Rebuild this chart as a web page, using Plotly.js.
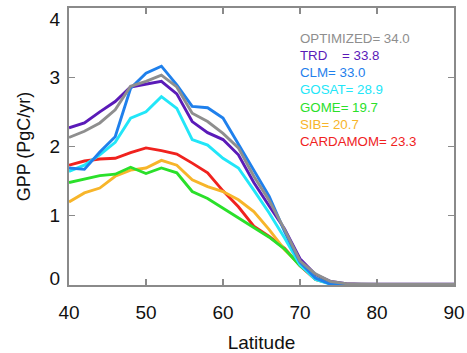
<!DOCTYPE html>
<html>
<head>
<meta charset="utf-8">
<script src="https://cdn.plot.ly/plotly-3.0.1.min.js"></script>
<style>html,body{margin:0;padding:0;background:#fff;}#chart{width:467px;height:353px;}</style>
</head>
<body>
<div id="chart"></div>
<script>
const latitude = [40,42,44,46,48,50,52,54,56,58,60,62,64,66,68,70,72,74,76,78,80,82,84,86,88,90];

const optimized = [2.13,2.22,2.34,2.53,2.87,2.94,3.03,2.86,2.48,2.36,2.19,1.98,1.57,1.22,0.80,0.35,0.16,0.05,0.02,0.01,0.01,0.01,0.01,0.01,0.01,0.01];
const trd       = [2.27,2.34,2.50,2.65,2.86,2.90,2.94,2.76,2.36,2.20,2.10,1.88,1.48,1.14,0.81,0.38,0.15,0.05,0.02,0.01,0.01,0.01,0.01,0.01,0.01,0.01];
const clm       = [1.69,1.67,1.92,2.14,2.84,3.06,3.16,2.89,2.58,2.56,2.41,2.04,1.66,1.28,0.77,0.33,0.10,0.01,0.00,0.00,0.00,0.00,0.00,0.00,0.00,0.00];
const gosat     = [1.64,1.73,1.88,2.06,2.41,2.50,2.72,2.55,2.10,2.02,1.83,1.69,1.37,1.04,0.68,0.29,0.08,0.01,0.00,0.00,0.00,0.00,0.00,0.00,0.00,0.00];
const gome      = [1.48,1.53,1.58,1.60,1.70,1.61,1.69,1.62,1.35,1.25,1.11,0.97,0.84,0.69,0.52,0.28,0.10,0.02,0.00,0.00,0.00,0.00,0.00,0.00,0.00,0.00];
const sib       = [1.20,1.33,1.40,1.57,1.66,1.69,1.80,1.73,1.52,1.42,1.35,1.23,1.06,0.80,0.51,0.29,0.08,0.02,0.01,0.00,0.00,0.00,0.00,0.00,0.00,0.00];
const cardamom  = [1.73,1.79,1.82,1.83,1.91,1.98,1.94,1.89,1.76,1.62,1.36,1.13,0.85,0.70,0.53,0.28,0.08,0.02,0.01,0.00,0.00,0.00,0.00,0.00,0.00,0.00];

const seriesNames  = ["OPTIMIZED","TRD","CLM","GOSAT","GOME","SIB","CARDAMOM"];
const legendLabels = ["OPTIMIZED= 34.0","TRD&nbsp;&nbsp;&nbsp;&nbsp;= 33.8","CLM= 33.0","GOSAT= 28.9","GOME= 19.7","SIB= 20.7","CARDAMOM= 23.3"];
const colors = ["#8e8e8e","#5a1ab8","#1f80ec","#22e6f8","#2ae02a","#f7b52a","#f0221e"];
const seriesData = [optimized,trd,clm,gosat,gome,sib,cardamom];
const xTicks = [40,50,60,70,80,90];
const yTickMarks = [1,2,3];
const yTickLabels = ["0","1","2","3","4"];
// label positions (end labels nudged inside the frame, as in the reference)
const yLabelPos = [0.09,1,2,3,3.84];

const FONT = "Liberation Sans, Arial, sans-serif";

// draw order: red/orange/green below, gray on top
const drawOrder = [6,5,4,3,1,2,0];
const traces = drawOrder.map(i => ({
  x: latitude, y: seriesData[i], type: "scatter", mode: "lines",
  name: seriesNames[i],
  line: {color: colors[i], width: 2.9},
  hoverinfo: "skip"
}));

const annY = [3.565,3.316,3.067,2.818,2.569,2.32,2.071];
const annotations = legendLabels.map((t,i) => ({
  x: 70, y: annY[i], xref: "x", yref: "y", text: t, showarrow: false,
  xanchor: "left", yanchor: "middle", xshift: -2,
  font: {family: FONT, size: 13.3, color: colors[i]}
}));

const axisCommon = {
  showline: true, linecolor: "#8a8a8a", linewidth: 1.6, mirror: "ticks",
  ticks: "inside", ticklen: 6, tickwidth: 1.3, tickcolor: "#8a8a8a",
  showgrid: false, zeroline: false, ticklabeloverflow: "allow",
  tickfont: {family: FONT, size: 19, color: "#111"}
};

const YRANGE = [0, 4.0];

const layout = {
  width: 467, height: 353,
  margin: {l: 69, r: 13, t: 8, b: 68},
  paper_bgcolor: "#fff", plot_bgcolor: "#fff",
  showlegend: false,
  xaxis: Object.assign({}, axisCommon, {
    range: [40, 90], tickvals: xTicks, ticklabelstandoff: 10,
    title: {text: "Latitude", font: {family: FONT, size: 19, color: "#111"}, standoff: 13}
  }),
  yaxis: Object.assign({}, axisCommon, {
    range: YRANGE, tickvals: yTickMarks, showticklabels: false
  }),
  yaxis2: {
    overlaying: "y", side: "left", anchor: "x", range: YRANGE,
    tickmode: "array", tickvals: yLabelPos, ticktext: yTickLabels,
    ticks: "", showline: false, showgrid: false, zeroline: false,
    ticklabelstandoff: 8, ticklabeloverflow: "allow",
    tickfont: {family: FONT, size: 19, color: "#111"},
    title: {text: "GPP (PgC/yr)", font: {family: FONT, size: 18, color: "#111"}, standoff: 14}
  },
  annotations: annotations
};

// an empty trace on yaxis2 so that axis is drawn
traces.push({x: [latitude[0]], y: [null], yaxis: "y2", type: "scatter", mode: "lines", hoverinfo: "skip", showlegend: false});

Plotly.newPlot("chart", traces, layout, {displayModeBar: false, staticPlot: true});
</script>
</body>
</html>
